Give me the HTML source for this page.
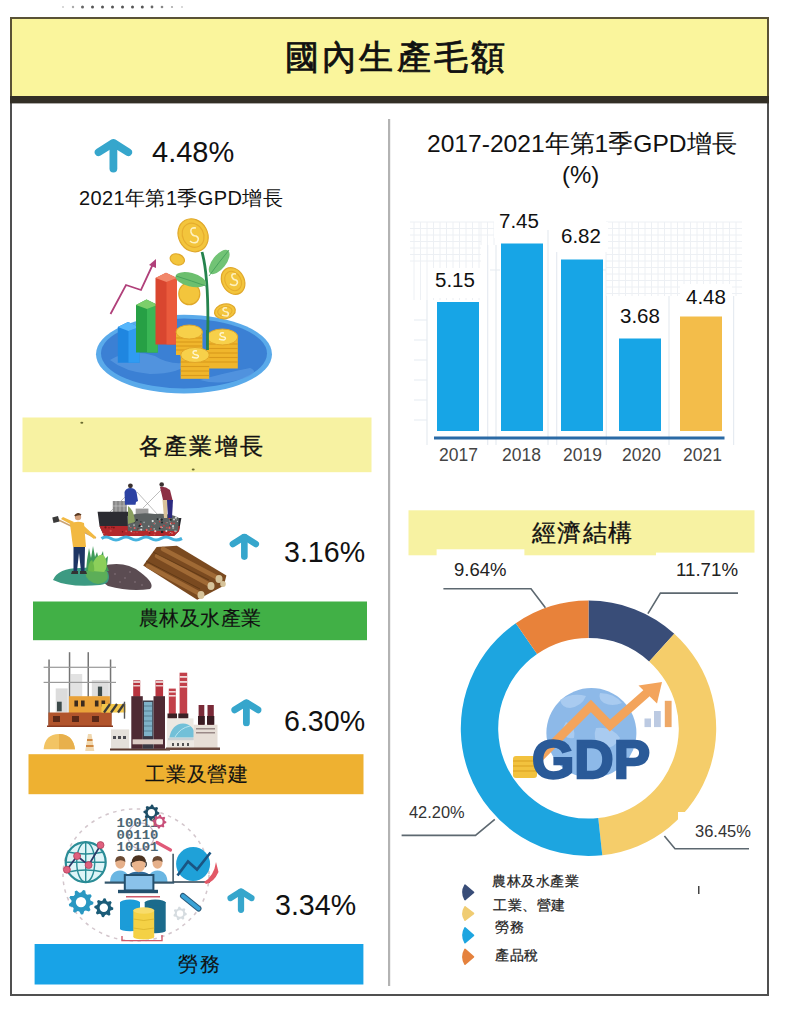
<!DOCTYPE html>
<html><head><meta charset="utf-8">
<style>
html,body{margin:0;padding:0;background:#fff;}
body{width:788px;height:1024px;position:relative;overflow:hidden;font-family:"Liberation Sans",sans-serif;color:#111;}
.a{position:absolute;white-space:nowrap;line-height:1;}
svg.bg{position:absolute;left:0;top:0;}
.num{font-size:28.6px;color:#111;}
.lab{font-size:20px;color:#111;-webkit-text-stroke:0.15px #111;}
.val{font-size:20.5px;color:#111;}
.yr{font-size:17.5px;color:#444;}
.pct{font-size:17px;color:#222;}
.leg{font-size:14px;color:#222;letter-spacing:0.6px;-webkit-text-stroke:0.25px #222;}
</style></head><body>
<svg class="bg" width="788" height="1024" viewBox="0 0 788 1024">
  <defs>
    <symbol id="arr" viewBox="0 0 38.4 34.3">
      <g fill="none" stroke="#36a6cc" stroke-linecap="round" stroke-linejoin="round">
        <polyline points="4.3,13.6 19.2,4.3 34.1,13.6"/>
        <line x1="19.2" y1="5" x2="19.2" y2="30"/>
      </g>
    </symbol>
  </defs>
  <!-- top dots -->
  <g>
    <circle cx="63" cy="7" r="1" fill="#ccc"/><circle cx="73" cy="7" r="1.2" fill="#aaa"/>
    <circle cx="82.5" cy="7" r="1.5" fill="#666"/><circle cx="92.5" cy="7" r="1.5" fill="#555"/><circle cx="102.5" cy="7" r="1.5" fill="#555"/>
    <circle cx="112.5" cy="7" r="1.5" fill="#555"/><circle cx="122.5" cy="7" r="1.5" fill="#555"/><circle cx="132.5" cy="7" r="1.5" fill="#555"/>
    <circle cx="142.3" cy="7" r="1.5" fill="#555"/><circle cx="152" cy="7" r="1.4" fill="#666"/><circle cx="162" cy="7" r="1.3" fill="#888"/>
    <circle cx="172" cy="7" r="1.1" fill="#aaa"/><circle cx="182" cy="7" r="1" fill="#ccc"/>
  </g>
  <!-- frame -->
  <rect x="11" y="18" width="757" height="977" fill="none" stroke="#505050" stroke-width="2"/>
  <!-- banner -->
  <rect x="11" y="18" width="757" height="79" fill="#faf59c" stroke="#5a5236" stroke-width="2"/>
  <rect x="10" y="96" width="759" height="7.4" fill="#332f26"/>
  <!-- divider -->
  <rect x="388" y="119" width="2.2" height="867" fill="#b3b3b3"/>


  <!-- ILLUSTRATION 1: money plant -->
  <g id="ill1">
    <ellipse cx="184" cy="354.2" rx="88" ry="39.4" fill="#5aaaea"/>
    <ellipse cx="184" cy="353.5" rx="83" ry="35" fill="#3b80d4"/>
    <path d="M110,360 q20,-12 45,-4 q15,10 35,6 q-10,12 -40,12 q-25,-2 -40,-14z" fill="#5897e0" opacity="0.8"/>
    <path d="M200,380 q20,-6 50,-12 q10,4 -5,10 q-25,8 -45,2z" fill="#5a9ae2" opacity="0.7"/>
    <!-- pink zigzag -->
    <polyline points="110.5,314 126,285 141,290 153,264" fill="none" stroke="#b0407a" stroke-width="1.8"/>
    <path d="M149,265 L156,259 L156,268Z" fill="#b0407a"/>
    <!-- blue bar -->
    <path d="M117.8,327 L128,322 L139.5,327 L139.5,362.8 L117.8,362.8Z" fill="#1f86e0"/>
    <path d="M128.5,331 L139.5,327 L139.5,362.8 L128.5,362.8Z" fill="#2f9bf2"/>
    <path d="M117.8,327 L128,322 L139.5,327 L128.5,331Z" fill="#56b6fb"/>
    <!-- green bar -->
    <path d="M136,305 L146.5,299.5 L157.8,305 L157.8,352.5 L136,352.5Z" fill="#27a045"/>
    <path d="M147,309 L157.8,305 L157.8,352.5 L147,352.5Z" fill="#3ab655"/>
    <path d="M136,305 L146.5,299.5 L157.8,305 L147,309Z" fill="#7ccf6a"/>
    <!-- red bar -->
    <path d="M155.5,278 L166,272.7 L177,278 L177,344.5 L155.5,344.5Z" fill="#d9462f"/>
    <path d="M166.5,282 L177,278 L177,344.5 L166.5,344.5Z" fill="#ea5a3c"/>
    <path d="M155.5,278 L166,272.7 L177,278 L166.5,282Z" fill="#f2876a"/>
    <!-- floating coins -->
    <g fill="#f3c53c" stroke="#e0a82a" stroke-width="1.2">
      <ellipse cx="193.1" cy="235.3" rx="14.5" ry="17" transform="rotate(-28 193.1 235.3)"/>
      <ellipse cx="177.3" cy="259.4" rx="7.3" ry="5.4" transform="rotate(20 177.3 259.4)"/>
      <ellipse cx="233.1" cy="281" rx="11" ry="14" transform="rotate(-30 233.1 281)"/>
      <ellipse cx="189.3" cy="293.7" rx="10.5" ry="11"/>
      <ellipse cx="224.9" cy="311.4" rx="10.5" ry="7.3" transform="rotate(-10 224.9 311.4)"/>
    </g>
    <g fill="none" stroke="#e6ad2e" stroke-width="1.1">
      <ellipse cx="193.1" cy="235.3" rx="10.5" ry="12.5" transform="rotate(-28 193.1 235.3)"/>
      <ellipse cx="233.1" cy="281" rx="7.8" ry="10.2" transform="rotate(-30 233.1 281)"/>
      <ellipse cx="224.9" cy="311.4" rx="7.2" ry="4.8" transform="rotate(-10 224.9 311.4)"/>
    </g>
    <g fill="none" stroke="#fff6d0" stroke-width="1.6" opacity="0.9">
      <path d="M196,228 q-6,-1 -5,4 q1,4 5,4 q4,2 1,6 q-4,2 -7,-1"/>
      <path d="M236,274 q-5,-1 -4,3 q1,3 4,3 q3,2 0,5 q-3,1 -6,-1"/>
      <path d="M227,308 q-4,-1 -4,2 q1,2 4,2 q3,2 0,4 q-3,0 -5,-1"/>
    </g>
    <!-- stem & leaves -->
    <path d="M202,252 C207,270 209,295 207.5,346" fill="none" stroke="#25834d" stroke-width="2.8"/>
    <ellipse cx="190.6" cy="279.7" rx="15.5" ry="6.8" transform="rotate(14 190.6 279.7)" fill="#6cbf6e"/>
    <ellipse cx="219.2" cy="262" rx="14.5" ry="6.8" transform="rotate(-52 219.2 262)" fill="#72c375"/>
    <path d="M176,276 Q192,281 206,286" stroke="#3f9a58" stroke-width="0.8" fill="none"/>
    <path d="M209,276 Q219,262 229,250" stroke="#3f9a58" stroke-width="0.8" fill="none"/>
    <!-- coin stacks -->
    <g id="stackL">
      <rect x="176" y="332" width="26.4" height="23" fill="#f0b62c"/>
      <g stroke="#d99a1c" stroke-width="1.1"><line x1="176" y1="338" x2="202.4" y2="338"/><line x1="176" y1="342" x2="202.4" y2="342"/><line x1="176" y1="346" x2="202.4" y2="346"/><line x1="176" y1="350" x2="202.4" y2="350"/></g>
      <ellipse cx="189.2" cy="332" rx="13.2" ry="7" fill="#f7d04a" stroke="#e2a628" stroke-width="1"/>
    </g>
    <g>
      <rect x="207" y="337" width="30.8" height="31.5" fill="#f0b62c"/>
      <g stroke="#d99a1c" stroke-width="1.1"><line x1="207" y1="344" x2="237.8" y2="344"/><line x1="207" y1="348.5" x2="237.8" y2="348.5"/><line x1="207" y1="353" x2="237.8" y2="353"/><line x1="207" y1="357.5" x2="237.8" y2="357.5"/><line x1="207" y1="362" x2="237.8" y2="362"/></g>
      <ellipse cx="222.4" cy="337" rx="15.4" ry="8" fill="#f7d04a" stroke="#e2a628" stroke-width="1"/>
      <path d="M224,333 q-4,-1 -4,2 q1,2 4,2 q3,1 0,3 q-3,0 -5,-1" fill="none" stroke="#fff6d0" stroke-width="1.4"/>
    </g>
    <g>
      <rect x="180.7" y="355" width="28.5" height="23.8" fill="#f0b62c"/>
      <g stroke="#d99a1c" stroke-width="1.1"><line x1="180.7" y1="362" x2="209.2" y2="362"/><line x1="180.7" y1="366.5" x2="209.2" y2="366.5"/><line x1="180.7" y1="371" x2="209.2" y2="371"/><line x1="180.7" y1="375.5" x2="209.2" y2="375.5"/></g>
      <ellipse cx="195" cy="355" rx="14.3" ry="7.5" fill="#f7d04a" stroke="#e2a628" stroke-width="1"/>
      <path d="M197,351 q-4,-1 -4,2 q1,2 4,2 q3,1 0,3 q-3,0 -5,-1" fill="none" stroke="#fff6d0" stroke-width="1.4"/>
    </g>
    <path d="M207.5,330 L207.5,350" stroke="#25834d" stroke-width="2.8"/>
  </g>


  <!-- ILLUSTRATION 2: agriculture -->
  <g id="ill2">
    <!-- ground -->
    <path d="M102,566 Q125,560 140,572 Q156,584 150,589 Q130,592 108,586 Q96,578 102,566Z" fill="#5b4c52"/>
    <g fill="#8a7a80"><circle cx="115" cy="574" r="0.8"/><circle cx="125" cy="578" r="0.8"/><circle cx="135" cy="582" r="0.8"/><circle cx="120" cy="582" r="0.8"/><circle cx="130" cy="572" r="0.8"/><circle cx="142" cy="585" r="0.8"/></g>
    <path d="M53,580 Q58,568 80,568 Q100,566 108,572 Q112,584 100,585 Q70,588 53,580Z" fill="#3c9a82"/>
    <path d="M85,572 Q95,566 106,570 Q112,582 98,584 Q86,582 85,572Z" fill="#5cae58"/>
    <!-- bush -->
    <path d="M86,571 L87,560 L89,548 L91,558 L93,546 L95,557 L97,552 L99,560 L103,551 L104,560 L108,556 L107,566 L109,571Z" fill="#3f9a58"/>
    <path d="M92,571 Q92,560 98,556 Q104,552 106,560 Q108,568 104,572Z" fill="#8ccf5a"/>
    <path d="M88,571 Q88,562 92,560 Q95,566 94,572Z" fill="#6cb84a"/>
    <!-- farmer -->
    <line x1="56.5" y1="519" x2="96" y2="538" stroke="#c9a274" stroke-width="1.5"/>
    <path d="M52.3,517.5 L58,516 L59.5,521.5 L53.5,523Z" fill="#3a3a3a"/>
    <circle cx="78" cy="517" r="3.2" fill="#d4a07a"/>
    <path d="M74.8,516 Q78,512 81,515" fill="#5a3a22" stroke="#5a3a22" stroke-width="1.5"/>
    <path d="M70,524 Q77,520 84,523 L86,547 L73,547Z" fill="#f2b942"/>
    <path d="M72,525 L61,519 L63,517 L74,522Z" fill="#f2b942"/>
    <path d="M83,525 L96,537 L94,539 L82,530Z" fill="#f2b942"/>
    <path d="M73.5,547 L85,547 L84.5,571 L81,571 L79,553 L77,571 L73.5,571Z" fill="#1d3563"/>
    <path d="M72,571 L78,571 L78,574 L71,574Z M80,571 L86,571 L87,574 L80,574Z" fill="#333"/>
    <!-- boat -->
    <g stroke="#7a7a7a" stroke-width="0.5" fill="none"><line x1="132" y1="490" x2="110" y2="512"/><line x1="137" y1="492" x2="158" y2="515"/><line x1="162" y1="489" x2="143" y2="508"/></g>
    <rect x="112.8" y="501" width="14" height="11" fill="#8a8a8a"/>
    <g stroke="#cfcfcf" stroke-width="0.6"><line x1="116" y1="501" x2="116" y2="512"/><line x1="120" y1="501" x2="120" y2="512"/><line x1="124" y1="501" x2="124" y2="512"/><line x1="112.8" y1="506" x2="126.8" y2="506"/></g>
    <rect x="135.7" y="508.6" width="12.7" height="9.5" fill="#9a9a9a"/>
    <path d="M97.6,511.8 L128,511.8 L128,518.1 L181.4,518.1 L179,531 L174,536 L104,536 L99.5,526Z" fill="#2c2c32"/>
    <path d="M99.5,526 L180,526 L179,531 L174,536 L104,536Z" fill="#b3282c"/>
    <path d="M127,516 Q140,512 155,514 Q170,513 179,518 L178,531 L128,531Z" fill="#5c6262"/>
    <g><circle cx="139.9" cy="525.7" r="1.1" fill="#202428"/><circle cx="151.7" cy="526.3" r="0.6" fill="#c04040"/><circle cx="169.9" cy="521.1" r="0.7" fill="#9aa0a0"/><circle cx="163.9" cy="525.7" r="0.9" fill="#c04040"/><circle cx="160.0" cy="519.4" r="1.1" fill="#9aa0a0"/><circle cx="154.2" cy="528.9" r="0.7" fill="#d8d8d8"/><circle cx="175.9" cy="517.7" r="1.1" fill="#d8d8d8"/><circle cx="141.5" cy="526.5" r="1.0" fill="#e0e4e4"/><circle cx="174.1" cy="523.3" r="0.9" fill="#c04040"/><circle cx="174.8" cy="531.1" r="0.6" fill="#d8d8d8"/><circle cx="152.7" cy="521.1" r="1.1" fill="#e0e4e4"/><circle cx="170.8" cy="523.7" r="0.9" fill="#e0e4e4"/><circle cx="154.7" cy="523.5" r="1.1" fill="#9aa0a0"/><circle cx="162.1" cy="531.9" r="1.2" fill="#202428"/><circle cx="161.6" cy="519.6" r="1.2" fill="#202428"/><circle cx="173.2" cy="526.1" r="1.0" fill="#9aa0a0"/><circle cx="177.4" cy="521.3" r="0.6" fill="#d8d8d8"/><circle cx="170.7" cy="532.8" r="0.8" fill="#d8d8d8"/><circle cx="131.3" cy="531.4" r="0.8" fill="#d8d8d8"/><circle cx="166.4" cy="531.0" r="1.0" fill="#d8d8d8"/><circle cx="166.1" cy="523.0" r="0.8" fill="#c04040"/><circle cx="172.0" cy="532.7" r="0.7" fill="#c04040"/><circle cx="129.8" cy="517.1" r="1.0" fill="#d8d8d8"/><circle cx="129.6" cy="520.2" r="0.8" fill="#e0e4e4"/><circle cx="141.2" cy="528.0" r="0.8" fill="#202428"/><circle cx="175.9" cy="531.3" r="0.8" fill="#e0e4e4"/><circle cx="171.5" cy="523.2" r="1.0" fill="#c04040"/><circle cx="133.1" cy="532.6" r="0.8" fill="#c04040"/><circle cx="159.7" cy="528.4" r="0.9" fill="#202428"/><circle cx="140.9" cy="521.8" r="0.6" fill="#202428"/><circle cx="148.8" cy="526.3" r="0.8" fill="#d8d8d8"/><circle cx="157.5" cy="519.1" r="0.9" fill="#202428"/><circle cx="162.0" cy="522.6" r="1.0" fill="#202428"/><circle cx="129.1" cy="518.0" r="1.2" fill="#d8d8d8"/><circle cx="140.6" cy="524.3" r="1.0" fill="#c04040"/><circle cx="136.9" cy="520.0" r="1.1" fill="#202428"/><circle cx="141.2" cy="529.6" r="1.1" fill="#d8d8d8"/><circle cx="129.3" cy="526.1" r="0.8" fill="#9aa0a0"/><circle cx="139.1" cy="529.9" r="0.8" fill="#9aa0a0"/><circle cx="161.9" cy="527.4" r="0.7" fill="#d8d8d8"/><circle cx="144.1" cy="522.3" r="0.9" fill="#9aa0a0"/><circle cx="170.8" cy="519.7" r="1.0" fill="#202428"/><circle cx="138.9" cy="526.1" r="0.7" fill="#202428"/><circle cx="134.0" cy="525.5" r="0.8" fill="#9aa0a0"/><circle cx="169.8" cy="526.2" r="0.8" fill="#202428"/><circle cx="169.4" cy="518.4" r="0.8" fill="#c04040"/><circle cx="134.5" cy="521.7" r="0.9" fill="#202428"/><circle cx="159.7" cy="521.6" r="0.8" fill="#c04040"/><circle cx="174.0" cy="519.5" r="0.9" fill="#d8d8d8"/><circle cx="169.6" cy="527.0" r="0.9" fill="#c04040"/><circle cx="175.5" cy="531.8" r="0.6" fill="#9aa0a0"/><circle cx="150.8" cy="529.1" r="1.2" fill="#c04040"/><circle cx="155.2" cy="531.2" r="1.1" fill="#d8d8d8"/><circle cx="176.5" cy="518.9" r="0.6" fill="#9aa0a0"/><circle cx="173.2" cy="528.1" r="1.1" fill="#9aa0a0"/><circle cx="173.0" cy="526.2" r="0.9" fill="#d8d8d8"/><circle cx="134.0" cy="525.1" r="1.0" fill="#9aa0a0"/><circle cx="154.2" cy="523.6" r="0.7" fill="#c04040"/><circle cx="134.3" cy="532.6" r="0.9" fill="#c04040"/><circle cx="167.1" cy="522.6" r="0.7" fill="#9aa0a0"/><circle cx="169.5" cy="528.0" r="1.0" fill="#e86060"/><circle cx="172.1" cy="533.4" r="0.8" fill="#e86060"/><circle cx="145.4" cy="530.2" r="0.7" fill="#701818"/><circle cx="149.0" cy="531.2" r="0.8" fill="#e86060"/><circle cx="161.0" cy="527.0" r="1.0" fill="#e86060"/><circle cx="105.5" cy="527.4" r="1.1" fill="#701818"/><circle cx="166.9" cy="527.7" r="0.8" fill="#d04848"/><circle cx="113.9" cy="527.6" r="0.9" fill="#701818"/><circle cx="146.6" cy="529.9" r="1.1" fill="#e86060"/><circle cx="134.6" cy="528.0" r="1.0" fill="#e86060"/><circle cx="130.9" cy="527.6" r="0.6" fill="#e86060"/><circle cx="137.0" cy="532.2" r="0.8" fill="#d04848"/><circle cx="162.9" cy="532.0" r="0.6" fill="#701818"/><circle cx="149.7" cy="533.1" r="0.8" fill="#701818"/><circle cx="154.8" cy="530.7" r="0.7" fill="#e86060"/><circle cx="122.5" cy="531.7" r="0.7" fill="#701818"/><circle cx="111.9" cy="527.2" r="0.8" fill="#701818"/><circle cx="170.2" cy="533.3" r="0.7" fill="#701818"/><circle cx="154.5" cy="534.5" r="0.9" fill="#d04848"/><circle cx="169.4" cy="533.3" r="0.7" fill="#d04848"/><circle cx="126.2" cy="531.3" r="1.0" fill="#d04848"/><circle cx="138.0" cy="528.9" r="0.6" fill="#701818"/><circle cx="109.0" cy="527.8" r="0.7" fill="#701818"/><circle cx="103.8" cy="533.7" r="0.6" fill="#e86060"/><circle cx="110.7" cy="530.9" r="1.1" fill="#d04848"/></g>
    <path d="M128,506 Q134,510 135,522 L128,524Z" fill="#8aa060"/>
    <!-- people -->
    <circle cx="130.4" cy="485.8" r="2.4" fill="#3a3030"/>
    <path d="M125,504.8 L124.5,492 Q126,488 130.4,488 Q135,488 136.5,492 L138,501 L136,502 L135.5,504.8Z" fill="#2c42a3"/>
    <circle cx="161.7" cy="484.5" r="2.3" fill="#3a3030"/>
    <path d="M160,487 Q165,486 170,490 L172.5,500 L163,500Z" fill="#8c2f45"/>
    <path d="M162.5,500 L168,500 L167,518 L164,518Z" fill="#d8c29a"/>
    <path d="M167,500 L173,500 L172,518 L168,518Z" fill="#2c2a80"/>
    <!-- water -->
    <path d="M101.5,538.5 Q106,535.5 111,538.5 T121,538.5 T131,538.5 T141,538.5 T151,538.5 T161,538.5 T171,538.5 T182,538.5" fill="none" stroke="#45b2de" stroke-width="3.2"/>
    <!-- logs -->
    <path d="M143.2,565.5 L156.6,547 L176.9,545.8 L226.4,575.6 L223.8,585.8 L197.2,599.7Z" fill="#7a4a20"/>
    <g stroke="#a06a35" stroke-width="4.5" stroke-linecap="round">
      <line x1="148" y1="566" x2="200" y2="594"/>
      <line x1="157" y1="556" x2="210" y2="585"/>
      <line x1="163" y1="549" x2="218" y2="578"/>
    </g>
    <g stroke="#5e3814" stroke-width="0.9"><line x1="146" y1="561" x2="200" y2="589"/><line x1="153" y1="552" x2="209" y2="580"/></g>
    <g fill="#d6c39a"><ellipse cx="201" cy="595" rx="3.5" ry="4"/><ellipse cx="211" cy="586" rx="3.5" ry="4"/><ellipse cx="219" cy="579" rx="3.5" ry="4"/><ellipse cx="223" cy="584" rx="2.8" ry="3"/></g>
  </g>


  <!-- ILLUSTRATION 3: industry -->
  <g id="ill3">
    <!-- background gray buildings -->
    <rect x="55.7" y="688.4" width="12" height="24" fill="#dcdcdc"/>
    <rect x="70.7" y="674" width="11.5" height="23" fill="#e2e2e2"/>
    <rect x="91.8" y="680" width="17" height="17" fill="#dedede"/>
    <rect x="57" y="701.7" width="4.7" height="9.6" fill="#3c4a4a"/>
    <rect x="97.9" y="686.6" width="4.2" height="9.6" fill="#3c4a4a"/>
    <!-- scaffold -->
    <g fill="#757575">
      <rect x="48.3" y="659.5" width="1.5" height="66"/>
      <rect x="68.8" y="652.2" width="1.5" height="73"/>
      <rect x="87.5" y="652.2" width="1.5" height="73"/>
      <rect x="109.8" y="659.5" width="1.5" height="66"/>
    </g>
    <g fill="#9a9a9a"><rect x="43.6" y="666.7" width="72.4" height="1.2"/><rect x="43.6" y="681.8" width="72.4" height="1.2"/></g>
    <!-- orange floor -->
    <rect x="68.9" y="696.2" width="41" height="16.9" fill="#e9a23a"/>
    <g fill="#3a2a1e"><rect x="74.4" y="700.5" width="3.6" height="6"/><rect x="81" y="700.5" width="3.6" height="6"/><rect x="94.9" y="700.5" width="3.6" height="6"/><rect x="101.5" y="700.5" width="3.6" height="6"/></g>
    <!-- brick floor -->
    <rect x="48.4" y="712.5" width="63.3" height="13.9" fill="#b1542c"/>
    <g fill="#5a2818"><rect x="53" y="716" width="7" height="6"/><rect x="72" y="716" width="7" height="6"/><rect x="92" y="716" width="7" height="6"/></g>
    <rect x="47" y="725.5" width="66" height="1.5" fill="#8a3a20"/>
    <!-- barrier -->
    <rect x="101.5" y="704" width="24" height="8.5" fill="#f2c64a"/>
    <g stroke="#3a3a3a" stroke-width="2.2"><line x1="104" y1="712.5" x2="110" y2="704"/><line x1="111" y1="712.5" x2="117" y2="704"/><line x1="118" y1="712.5" x2="124" y2="704"/></g>
    <rect x="123.8" y="701.7" width="1.4" height="17" fill="#555"/>
    <!-- sand pile & cone -->
    <path d="M43.6,749.3 Q45,734 59,734 Q73,734 75,749.3Z" fill="#f2c464"/>
    <path d="M59,734 Q73,734 75,749.3 L59,749.3Z" fill="#e8b04c"/>
    <path d="M88,734 L91.5,734 L94.3,751 L85.2,751Z" fill="#f0d8b0"/>
    <g fill="#d08840"><rect x="87" y="739" width="5.5" height="2"/><rect x="86" y="745" width="7.5" height="2"/></g>
    <!-- small left building -->
    <rect x="111" y="729.4" width="18.2" height="20.5" fill="#e4e0da"/>
    <g fill="#4a4a50"><rect x="113" y="736" width="3" height="3"/><rect x="118" y="736" width="3" height="3"/><rect x="123" y="736" width="3" height="3"/></g>
    <rect x="110" y="748.5" width="60" height="2" fill="#5a3a30"/>
    <!-- main factory -->
    <rect x="133.2" y="680.3" width="7" height="16.5" fill="#b8343f"/>
    <rect x="155.5" y="680.3" width="7.6" height="16.5" fill="#b8343f"/>
    <g fill="#e6c8c8"><rect x="133.2" y="681" width="7" height="2"/><rect x="133.2" y="685" width="7" height="1.5"/><rect x="155.5" y="681" width="7.6" height="2"/><rect x="155.5" y="685" width="7.6" height="1.5"/></g>
    <rect x="131.3" y="696.2" width="11.5" height="52.6" fill="#4e2a33"/>
    <rect x="153.5" y="696.2" width="11.5" height="52.6" fill="#4e2a33"/>
    <rect x="142.8" y="700.5" width="10.7" height="48.3" fill="#3a3844"/>
    <rect x="144" y="701.9" width="8.3" height="34.2" fill="#7fb2c8"/>
    <g stroke="#4a6a80" stroke-width="0.7"><line x1="144" y1="706" x2="152.3" y2="706"/><line x1="144" y1="711" x2="152.3" y2="711"/><line x1="144" y1="716" x2="152.3" y2="716"/><line x1="144" y1="721" x2="152.3" y2="721"/><line x1="144" y1="726" x2="152.3" y2="726"/><line x1="144" y1="731" x2="152.3" y2="731"/></g>
    <rect x="132.6" y="739.3" width="30.4" height="5" fill="#dccbc4"/>
    <!-- tall chimneys -->
    <rect x="168.8" y="688.6" width="7" height="29.8" fill="#c2404a"/>
    <rect x="179.6" y="672.7" width="7.6" height="45.7" fill="#c2404a"/>
    <g fill="#f0d8d8"><rect x="168.8" y="691" width="7" height="1.6"/><rect x="168.8" y="695" width="7" height="1.6"/><rect x="179.6" y="676" width="7.6" height="1.8"/><rect x="179.6" y="681" width="7.6" height="1.8"/><rect x="179.6" y="686" width="7.6" height="1.6"/></g>
    <rect x="167.5" y="713.5" width="9.5" height="5" fill="#3a2024"/>
    <rect x="178.3" y="713.5" width="10" height="5" fill="#3a2024"/>
    <!-- right buildings -->
    <rect x="166.9" y="718.4" width="26.6" height="30.4" fill="#ece8e2"/>
    <path d="M169.4,737.4 Q172,724 183,723.5 Q194,724 196,737.4Z" fill="#72c0d8"/>
    <path d="M175,737 Q180,728 190,726" stroke="#b8e4f0" stroke-width="1" fill="none"/>
    <rect x="168" y="738" width="26" height="2.2" fill="#c8d0d4"/>
    <g fill="#555"><rect x="172" y="743" width="2" height="3"/><rect x="177" y="743" width="2" height="3"/><rect x="182" y="743" width="2" height="3"/><rect x="187" y="743" width="2" height="3"/></g>
    <rect x="193.5" y="724.7" width="24" height="24" fill="#e6ded6"/>
    <rect x="198.6" y="705" width="5.7" height="19.7" fill="#7a2a38"/>
    <rect x="207.5" y="705" width="6.3" height="19.7" fill="#7a2a38"/>
    <g fill="#3a1c22"><rect x="198" y="716" width="6.8" height="8.7"/><rect x="207" y="716" width="7.3" height="8.7"/></g>
    <g fill="#9a8a88"><rect x="196" y="728" width="19" height="1.5"/><rect x="196" y="732" width="19" height="1.5"/></g>
    <rect x="166" y="747.5" width="54" height="2.5" fill="#6a4a40"/>
  </g>


  <!-- ILLUSTRATION 4: services -->
  <g id="ill4">
    <ellipse cx="136" cy="875" rx="73" ry="66" fill="none" stroke="#cbbcc3" stroke-width="1.5" stroke-dasharray="3.5 4.5" opacity="0.85"/>
    <!-- globe -->
    <circle cx="85.7" cy="862.2" r="20" fill="#def5f8" stroke="#2a8c96" stroke-width="2.2"/>
    <g fill="none" stroke="#2a8c96" stroke-width="1.4">
      <ellipse cx="85.7" cy="862.2" rx="9" ry="20"/>
      <line x1="85.7" y1="842.2" x2="85.7" y2="882.2"/>
      <line x1="65.7" y1="862.2" x2="105.7" y2="862.2"/>
      <path d="M68,852 Q85.7,856 103.4,852 M68,872 Q85.7,868 103.4,872"/>
    </g>
    <polyline points="66.9,869.7 77.1,856 88.6,865.1 100.5,845.1" fill="none" stroke="#2b3a68" stroke-width="1.8"/>
    <g fill="#e0607e" stroke="#b0405a" stroke-width="0.8">
      <circle cx="100.5" cy="845.1" r="3.5"/><circle cx="77.1" cy="856" r="3.5"/><circle cx="88.6" cy="865.1" r="3.5"/><circle cx="66.9" cy="869.7" r="3.5"/>
    </g>
    <!-- binary -->
    <circle cx="141" cy="836" r="13" fill="none" stroke="#c4b4c8" stroke-width="1.2"/>
    <g font-family="Liberation Mono, monospace" font-size="12.5" font-weight="bold" fill="#3d5a6a" opacity="0.92">
      <text x="116.5" y="827.3" textLength="42" lengthAdjust="spacingAndGlyphs">10011</text>
      <text x="116.5" y="839" textLength="42" lengthAdjust="spacingAndGlyphs">00110</text>
      <text x="116.5" y="850.5" textLength="42" lengthAdjust="spacingAndGlyphs">10101</text>
    </g>
    <polygon points="159.40,812.60 159.25,814.16 157.13,814.97 156.56,816.04 157.06,818.26 155.84,819.25 153.77,818.33 152.61,818.68 151.40,820.60 149.84,820.45 149.03,818.33 147.96,817.76 145.74,818.26 144.75,817.04 145.67,814.97 145.32,813.81 143.40,812.60 143.55,811.04 145.67,810.23 146.24,809.16 145.74,806.94 146.96,805.95 149.03,806.87 150.19,806.52 151.40,804.60 152.96,804.75 153.77,806.87 154.84,807.44 157.06,806.94 158.05,808.16 157.13,810.23 157.48,811.39" fill="#1d4d66"/><circle cx="151.4" cy="812.6" r="3.6" fill="#fff"/><polygon points="166.40,821.70 166.27,823.07 164.39,823.77 163.89,824.70 164.35,826.65 163.29,827.52 161.47,826.69 160.45,827.00 159.40,828.70 158.03,828.57 157.33,826.69 156.40,826.19 154.45,826.65 153.58,825.59 154.41,823.77 154.10,822.75 152.40,821.70 152.53,820.33 154.41,819.63 154.91,818.70 154.45,816.75 155.51,815.88 157.33,816.71 158.35,816.40 159.40,814.70 160.77,814.83 161.47,816.71 162.40,817.21 164.35,816.75 165.22,817.81 164.39,819.63 164.70,820.65" fill="#c8507a"/><circle cx="159.4" cy="821.7" r="3.2" fill="#fff"/>
    <line x1="157" y1="842.5" x2="170.5" y2="850" stroke="#e05a78" stroke-width="3.2" stroke-linecap="round"/>
    <!-- chart circle -->
    <line x1="173.1" y1="853.7" x2="173.1" y2="882" stroke="#2a4050" stroke-width="1.4"/>
    <line x1="173.1" y1="882" x2="210" y2="882" stroke="#2a4050" stroke-width="1.4"/>
    <circle cx="193.1" cy="864" r="17" fill="#1fa1d8"/>
    <polyline points="177.5,875.5 188,861.5 197,869.5 210.5,852.5" fill="none" stroke="#1a5582" stroke-width="2.6"/>
    <path d="M204,882 Q214,876 216,862 L218.5,872 Q214,882 206,884Z" fill="#e25866"/>
    <!-- people -->
    <g>
      <path d="M110,883 Q110,871 120,870.5 Q129.5,871 129.5,883Z" fill="#6ab6e2"/>
      <path d="M147.5,883 Q147.5,871 157.5,870.5 Q167.5,871 167.5,883Z" fill="#6ab6e2"/>
      <ellipse cx="120.3" cy="862.8" rx="5" ry="6" fill="#e6b08a"/>
      <ellipse cx="157.5" cy="862.8" rx="5" ry="6" fill="#e6b08a"/>
      <path d="M115.2,862 Q115,856 120.3,856 Q125.5,856 125.4,862 Q121,858.5 115.2,862Z" fill="#6a4a34"/>
      <path d="M152.4,862 Q152.2,856 157.5,856 Q162.7,856 162.6,862 Q158,858.5 152.4,862Z" fill="#6a4a34"/>
      <path d="M124,882 Q125,872 138.8,871.5 Q152.5,872 153.5,882Z" fill="#2f6a9a"/>
      <ellipse cx="138.8" cy="864" rx="6.8" ry="8.2" fill="#eab48c"/>
      <path d="M131.8,863 Q131.5,855.3 138.8,855.3 Q146.2,855.3 145.9,863 Q140,858.5 131.8,863Z" fill="#4a3220"/>
      <path d="M131.5,862 Q130.5,866 132.5,867 M146,862 Q147,866 145,867" stroke="#3a3a3a" stroke-width="1.2" fill="none"/>
    </g>
    <rect x="104.7" y="881.5" width="69.5" height="2.2" fill="#34566c"/>
    <rect x="124.8" y="875" width="28.6" height="15.5" fill="#8ac2ea" stroke="#24506e" stroke-width="2"/>
    <rect x="118" y="889.8" width="40" height="3.4" fill="#24506e"/>
    <!-- gears bottom left -->
    <polygon points="93.40,902.10 93.21,904.25 90.02,905.38 89.31,906.90 90.50,910.07 88.97,911.60 85.80,910.41 84.28,911.12 83.15,914.31 81.00,914.50 79.33,911.55 77.72,911.12 74.80,912.84 73.03,911.60 73.65,908.27 72.69,906.90 69.35,906.34 68.79,904.25 71.40,902.10 71.55,900.43 69.35,897.86 70.26,895.90 73.65,895.93 74.83,894.75 74.80,891.36 76.76,890.45 79.33,892.65 81.00,892.50 83.15,889.89 85.24,890.45 85.80,893.79 87.17,894.75 90.50,894.13 91.74,895.90 90.02,898.82 90.45,900.43" fill="#2a98c2"/><circle cx="81" cy="902.1" r="5.2" fill="#fff"/><polygon points="113.30,907.80 113.12,909.65 110.54,910.59 109.87,911.86 110.52,914.52 109.08,915.70 106.59,914.54 105.22,914.96 103.80,917.30 101.95,917.12 101.01,914.54 99.74,913.87 97.08,914.52 95.90,913.08 97.06,910.59 96.64,909.22 94.30,907.80 94.48,905.95 97.06,905.01 97.73,903.74 97.08,901.08 98.52,899.90 101.01,901.06 102.38,900.64 103.80,898.30 105.65,898.48 106.59,901.06 107.86,901.73 110.52,901.08 111.70,902.52 110.54,905.01 110.96,906.38" fill="#1b5c78"/><circle cx="103.8" cy="907.8" r="4.2" fill="#fff"/>
    <!-- databases -->
    <path d="M126,896.8 L160,896.8" stroke="#d05a6a" stroke-width="1.6"/>
    <path d="M122,936 L122,940.6 L162,940.6 L162,935" fill="none" stroke="#d05a6a" stroke-width="1.4"/>
    <rect x="120" y="902" width="20" height="27" fill="#1c9cd8"/>
    <ellipse cx="130" cy="902.5" rx="10" ry="3" fill="#1c9cd8"/>
    <ellipse cx="130" cy="929" rx="10" ry="2.2" fill="#1c9cd8"/>
    <rect x="144.7" y="902" width="21" height="29" fill="#1b6b8c"/>
    <ellipse cx="155.2" cy="902.5" rx="10.5" ry="3" fill="#1b6b8c"/>
    <ellipse cx="155.2" cy="931" rx="10.5" ry="2.2" fill="#1b6b8c"/>
    <rect x="133.3" y="910" width="20.9" height="27" fill="#f4d145"/>
    <ellipse cx="143.8" cy="910.5" rx="10.45" ry="3.2" fill="#f8dc6a"/>
    <ellipse cx="143.8" cy="937" rx="10.45" ry="2.4" fill="#f4d145"/>
    <g stroke="#d9b22a" stroke-width="0.8" fill="none"><path d="M133.3,919 Q143.8,922 154.2,919"/><path d="M133.3,928 Q143.8,931 154.2,928"/></g>
    <!-- pencil & faint gear -->
    <line x1="183" y1="896" x2="198.5" y2="908.5" stroke="#2a5a7a" stroke-width="6" stroke-linecap="round"/>
    <line x1="183" y1="896" x2="198.5" y2="908.5" stroke="#3ba3d6" stroke-width="4" stroke-linecap="round"/>
    <polygon points="186.80,913.50 186.63,915.01 184.69,915.76 184.07,916.74 184.24,918.82 182.95,919.63 181.16,918.57 180.00,918.70 178.49,920.13 177.05,919.63 176.76,917.57 175.93,916.74 173.87,916.45 173.37,915.01 174.80,913.50 174.93,912.34 173.87,910.55 174.68,909.26 176.76,909.43 177.74,908.81 178.49,906.87 180.00,906.70 181.16,908.43 182.26,908.81 184.24,908.18 185.32,909.26 184.69,911.24 185.07,912.34" fill="#d6dce0"/><circle cx="180" cy="913.5" r="3.2" fill="#fff"/>
  </g>

  <!-- left arrows -->
  <use href="#arr" x="94.2" y="138.6" width="38.4" height="34.3" stroke-width="7.8"/>
  <use href="#arr" x="229.1" y="533.5" width="30.5" height="26.4" stroke-width="8.6"/>
  <use href="#arr" x="231.2" y="699" width="30.4" height="27.5" stroke-width="8.6"/>
  <use href="#arr" x="227.3" y="887.6" width="27.4" height="26" stroke-width="8.8"/>

  <!-- section boxes -->
  <rect x="22.5" y="417.5" width="349" height="54.7" fill="#f7f2a2"/>
  <ellipse cx="81.8" cy="422.8" rx="1.5" ry="1" fill="#6a6a30"/>
  <ellipse cx="193.2" cy="469.4" rx="1.5" ry="1" fill="#6a6a30"/>
  <rect x="33" y="601.5" width="334" height="38.7" fill="#41b046"/>
  <rect x="28.5" y="754.2" width="335" height="40" fill="#eeb131"/>
  <rect x="34.6" y="944" width="328.8" height="40.5" fill="#18a3e7"/>

  <!-- chart grid -->
  <g stroke="#edf0f4" stroke-width="1" fill="none">
    <path d="M414.0 222 V300 M420.5 222 V300 M427.0 222 V300 M433.5 222 V300 M440.0 222 V300 M446.5 222 V300 M453.0 222 V300 M459.5 222 V300 M466.0 222 V300 M472.5 222 V300 M479.0 222 V300 M410 222.0 H481 M410 228.5 H481 M410 235.0 H481 M410 241.5 H481 M410 248.0 H481 M410 254.5 H481 M410 261.0 H481 M606.0 222 V296 M612.5 222 V296 M619.0 222 V296 M625.5 222 V296 M632.0 222 V296 M638.5 222 V296 M645.0 222 V296 M651.5 222 V296 M658.0 222 V296 M664.5 222 V296 M671.0 222 V296 M677.5 222 V296 M684.0 222 V296 M690.5 222 V296 M697.0 222 V296 M703.5 222 V296 M710.0 222 V296 M716.5 222 V296 M723.0 222 V296 M729.5 222 V296 M736.0 222 V296 M606 222.0 H742 M606 228.5 H742 M606 235.0 H742 M606 241.5 H742 M606 248.0 H742 M606 254.5 H742 M606 261.0 H742 M606 267.5 H742 M606 274.0 H742 M606 280.5 H742 M606 287.0 H742 M606 293.5 H742 M481.0 222 V245 M487.5 222 V245 M494.0 222 V245 M481 222.0 H500 M481 228.5 H500 M481 235.0 H500"/>
  </g>
  <g stroke="#e6ebf1" stroke-width="1.2" fill="none">
    <path d="M427 300 V445 M487.7 245 V445 M496 245 V445 M548 230 V445 M556.7 240 V445 M606.3 296 V445 M669 296 V445 M733.6 296 V445 M490 270 H500 M603 270 H606"/>
    <path d="M414 320 H427 M414 340 H427 M414 360 H427 M414 380 H427 M414 400 H427 M414 420 H427"/>
  </g>
  <!-- white label bg boxes in chart -->
  <rect x="430" y="268" width="52" height="30" fill="#fff"/>
  <rect x="494" y="208" width="52" height="30" fill="#fff"/>
  <rect x="556" y="222" width="52" height="30" fill="#fff"/>
  <rect x="615" y="303" width="52" height="30" fill="#fff"/>
  <rect x="680" y="284" width="52" height="28" fill="#fff"/>
  <!-- bars -->
  <rect x="437" y="302" width="42" height="129" fill="#17a5e6"/>
  <rect x="501" y="243.5" width="42" height="187.5" fill="#17a5e6"/>
  <rect x="561" y="259.5" width="42" height="171.5" fill="#17a5e6"/>
  <rect x="619" y="338.5" width="42" height="92.5" fill="#17a5e6"/>
  <rect x="680" y="316.5" width="42" height="114.5" fill="#f3bd4a"/>
  <rect x="434" y="436.5" width="290.5" height="3" fill="#2b6aa5"/>

  <!-- economic structure box -->
  <rect x="408.5" y="510.3" width="346" height="45" fill="#f7f2a2"/>
  <rect x="436.6" y="549.3" width="87.8" height="8" fill="#fff"/>
  <rect x="656" y="552.6" width="99" height="5" fill="#fff"/>

  <!-- donut -->
  <g transform="translate(588.5 728.3)">
    <path d="M0.00,-127.70 A127.7,127.7 0 0 1 85.78,-94.60 L60.66,-66.89 A90.3,90.3 0 0 0 0.00,-90.30Z" fill="#394d78"/>
    <path d="M85.78,-94.60 A127.7,127.7 0 0 1 13.79,126.95 L9.75,89.77 A90.3,90.3 0 0 0 60.66,-66.89Z" fill="#f5cd6a"/>
    <path d="M13.79,126.95 A127.7,127.7 0 0 1 -72.70,-104.99 L-51.41,-74.24 A90.3,90.3 0 0 0 9.75,89.77Z" fill="#1da5e0"/>
    <path d="M-72.70,-104.99 A127.7,127.7 0 0 1 -0.00,-127.70 L-0.00,-90.30 A90.3,90.3 0 0 0 -51.41,-74.24Z" fill="#e8823a"/>
  </g>

  <!-- GDP logo -->
  <g id="gdp">
    <circle cx="591.4" cy="733" r="45" fill="#8db9e8"/>
    <path d="M560,700 q12,-8 26,-4 q-4,10 -16,12 q-8,0 -10,-8z M600,693 q14,0 22,10 q-10,4 -18,0 q-6,-4 -4,-10z M566,722 q10,4 8,16 q-10,2 -12,-8z M596,728 q16,-2 24,10 q-6,12 -20,10 q-8,-10 -4,-20z" fill="#a9cbf0"/>
    <g fill="#bccae2"><rect x="644.5" y="718.5" width="6.5" height="8.6"/><rect x="654" y="711" width="6.8" height="16.1"/></g>
    <rect x="664.8" y="700.8" width="6.8" height="26.3" fill="#eea866"/>
    <polyline points="537.6,759.5 590.9,706 610,725.5 649,691" fill="none" stroke="#f3a45c" stroke-width="8.8" stroke-linejoin="miter"/>
    <path d="M662,682 L638.5,685.5 L657,703.5Z" fill="#f3a45c"/>
    <g fill="#f2c23e">
      <rect x="513" y="756" width="24" height="22" rx="3"/>
    </g>
    <g stroke="#d9a020" stroke-width="1"><line x1="513" y1="761" x2="537" y2="761"/><line x1="513" y1="766" x2="537" y2="766"/><line x1="513" y1="771" x2="537" y2="771"/></g>
    <text x="532" y="778.2" font-family="Liberation Sans, sans-serif" font-weight="bold" font-size="53.5" fill="#2a5a98" stroke="#2a5a98" stroke-width="2.4" textLength="118" lengthAdjust="spacingAndGlyphs">GDP</text>
  </g>

  <rect x="678" y="812" width="88.5" height="30" fill="#fff"/>
  <!-- leader lines -->
  <g fill="none" stroke="#5d6870" stroke-width="1.6">
    <polyline points="443.4,588.8 531,588.8 545.4,607.8"/>
    <polyline points="738,593.1 660.4,593.1 647.9,613.6"/>
    <polyline points="401.6,835.4 475.5,835.4 494.8,819.4"/>
    <polyline points="664.4,836 675,848.7 749,848.7"/>
  </g>

  <!-- legend markers -->
  <g stroke-width="1.6" stroke-linejoin="round">
  <path d="M465,885.2 L473.5,892.4 L465,899.6 Q460.8,892.4 465,885.2Z" fill="#394d78" stroke="#394d78"/>
  <path d="M465,906.8 L473.5,913.5 L465,920.2 Q460.8,913.5 465,906.8Z" fill="#f0cc72" stroke="#f0cc72"/>
  <path d="M465,927.9 L473.5,935.3 L465,942.7 Q460.8,935.3 465,927.9Z" fill="#1da5e0" stroke="#1da5e0"/>
  <path d="M465,949.4 L473.5,956.8 L465,964.2 Q460.8,956.8 465,949.4Z" fill="#e5823e" stroke="#e5823e"/>
  </g>
  <rect x="698" y="886" width="1.5" height="8" fill="#444"/>
</svg>

<!-- title -->
<div class="a" style="left:285px;top:40px;font-size:34px;letter-spacing:3.2px;-webkit-text-stroke:0.8px #111;">國內生產毛額</div>

<!-- left top -->
<div class="a num" style="left:152px;top:138px;font-size:29px;">4.48%</div>
<div class="a" style="left:79px;top:188px;font-size:20px;letter-spacing:0.4px;">2021年第1季GPD增長</div>

<div class="a" style="left:139px;top:435px;font-size:23px;letter-spacing:2.2px;-webkit-text-stroke:0.35px #111;">各產業增長</div>

<div class="a lab" style="left:139px;top:608px;letter-spacing:0.4px;">農林及水產業</div>
<div class="a num" style="left:284px;top:538px;">3.16%</div>

<div class="a lab" style="left:145px;top:764px;letter-spacing:0.8px;">工業及營建</div>
<div class="a num" style="left:284px;top:707px;">6.30%</div>

<div class="a lab" style="left:178px;top:954px;letter-spacing:2.2px;">勞務</div>
<div class="a num" style="left:275px;top:891px;">3.34%</div>

<!-- right chart -->
<div class="a" style="left:427px;top:132px;font-size:24.6px;">2017-2021年第1季GPD增長</div>
<div class="a" style="left:562px;top:163px;font-size:24px;">(%)</div>

<div class="a val" style="left:435px;top:270px;">5.15</div>
<div class="a val" style="left:499px;top:211px;">7.45</div>
<div class="a val" style="left:561px;top:226px;">6.82</div>
<div class="a val" style="left:620px;top:306px;">3.68</div>
<div class="a val" style="left:686px;top:287px;">4.48</div>

<div class="a yr" style="left:439px;top:447px;">2017</div>
<div class="a yr" style="left:502px;top:447px;">2018</div>
<div class="a yr" style="left:563px;top:447px;">2019</div>
<div class="a yr" style="left:622px;top:447px;">2020</div>
<div class="a yr" style="left:683px;top:447px;">2021</div>

<div class="a" style="left:532px;top:521px;font-size:24px;letter-spacing:1.3px;-webkit-text-stroke:0.3px #111;">經濟結構</div>

<div class="a pct" style="left:454px;top:561px;font-size:18.5px;">9.64%</div>
<div class="a pct" style="left:676px;top:561px;font-size:18.7px;">11.71%</div>
<div class="a pct" style="left:409px;top:804px;color:#333;font-size:16.4px;">42.20%</div>
<div class="a pct" style="left:695px;top:823px;color:#333;font-size:16.5px;">36.45%</div>

<div class="a leg" style="left:492px;top:874px;">農林及水產業</div>
<div class="a leg" style="left:493px;top:898px;">工業、營建</div>
<div class="a leg" style="left:495px;top:920px;">勞務</div>
<div class="a leg" style="left:495px;top:948px;">產品稅</div>


</body></html>
